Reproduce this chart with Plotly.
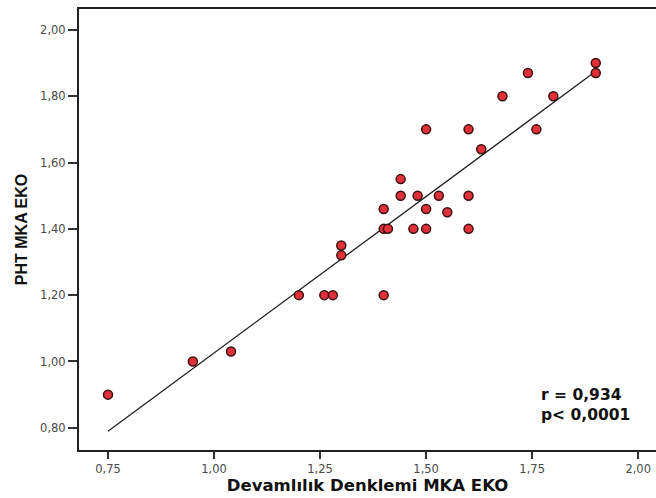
import numpy as np
import plotly.graph_objects as go

# Continuity equation MVA (x) vs pressure half-time MVA (y), echo measurements
devamlilik = [0.75, 0.95, 1.04, 1.20, 1.26, 1.28, 1.40, 1.30, 1.30, 1.40,
              1.41, 1.47, 1.50, 1.60, 1.40, 1.50, 1.55, 1.44, 1.48, 1.53,
              1.60, 1.44, 1.50, 1.60, 1.76, 1.63, 1.68, 1.80, 1.74, 1.90, 1.90]
pht = [0.90, 1.00, 1.03, 1.20, 1.20, 1.20, 1.20, 1.32, 1.35, 1.40,
       1.40, 1.40, 1.40, 1.40, 1.46, 1.46, 1.45, 1.50, 1.50, 1.50,
       1.50, 1.55, 1.70, 1.70, 1.70, 1.64, 1.80, 1.80, 1.87, 1.87, 1.90]

x_ticks = [0.75, 1.00, 1.25, 1.50, 1.75, 2.00]
y_ticks = [0.80, 1.00, 1.20, 1.40, 1.60, 1.80, 2.00]
stats_text = "r = 0,934<br>p< 0,0001"

# Least-squares fit line across the observed x span
x_arr = np.array(devamlilik)
y_arr = np.array(pht)
slope, intercept = np.polyfit(x_arr, y_arr, 1)
fit_x = np.array([x_arr.min(), x_arr.max()])
fit_y = slope * fit_x + intercept

fig = go.Figure()
fig.add_trace(go.Scatter(
    x=fit_x, y=fit_y, mode="lines",
    line=dict(color="#222222", width=1.3),
    hoverinfo="skip", showlegend=False,
))
fig.add_trace(go.Scatter(
    x=devamlilik, y=pht, mode="markers",
    marker=dict(size=9, color="#e0303a",
                line=dict(color="#3a1010", width=1.5)),
    showlegend=False,
))

fig.add_annotation(
    x=1.0, y=0.0, xref="paper", yref="paper",
    xshift=-24, yshift=24,
    text=stats_text, showarrow=False, align="left",
    xanchor="right", yanchor="bottom",
    font=dict(family="DejaVu Sans, sans-serif", size=15.5,
              color="#111111", weight="bold"),
)

axis_font = dict(family="DejaVu Sans, sans-serif", size=11.5,
                 color="#4a4a4a")
title_font = dict(family="DejaVu Sans, sans-serif", size=16.5,
                  color="#111111", weight="bold")

fig.update_layout(
    width=656, height=498,
    margin=dict(l=79, r=0, t=9, b=48),
    paper_bgcolor="white", plot_bgcolor="white",
    separators=",.",
    xaxis=dict(
        range=[0.6816, 2.042], tickvals=x_ticks, tickformat=".2f",
        showgrid=False, zeroline=False,
        showline=True, linecolor="#222222", linewidth=2, mirror=True,
        ticks="outside", ticklen=7, tickwidth=1.5, tickcolor="#333333",
        tickfont=axis_font,
        title=dict(text="Devamlılık Denklemi MKA EKO", font=title_font,
                   standoff=4),
    ),
    yaxis=dict(
        range=[0.733, 2.063], tickvals=y_ticks, tickformat=".2f",
        showgrid=False, zeroline=False,
        showline=True, linecolor="#222222", linewidth=2, mirror=False,
        ticks="outside", ticklen=9, tickwidth=1.5, tickcolor="#333333",
        tickfont=axis_font,
        title=dict(text="PHT MKA EKO",
                   font=dict(family="Liberation Sans, Arial, sans-serif",
                             size=16, color="#111111", weight="bold"),
                   standoff=8),
    ),
)

fig.write_html("out.html")
